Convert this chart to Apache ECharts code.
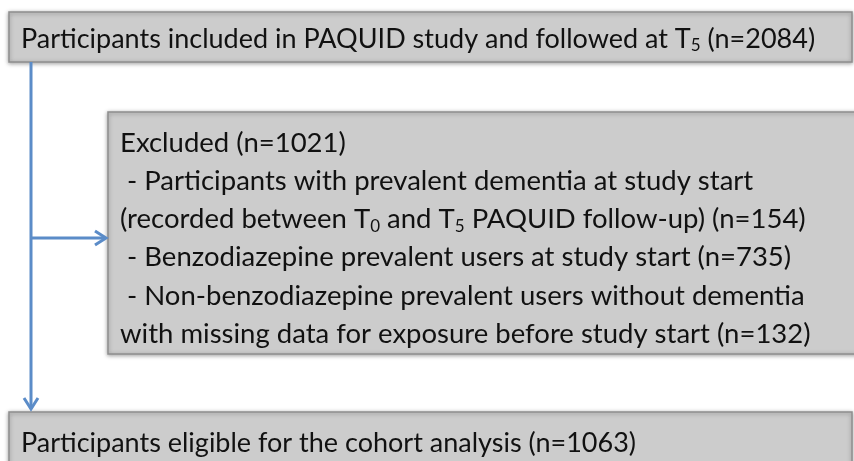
<!DOCTYPE html>
<html>
<head>
<meta charset="utf-8">
<script src="https://cdn.jsdelivr.net/npm/echarts@6/dist/echarts.min.js"></script>
<style>
  html, body { margin: 0; padding: 0; background: #fff; }
  #chart { width: 854px; height: 461px; }
</style>
</head>
<body>
<div id="chart"></div>
<script>
// box texts ({s|..} = subscript)
var topLines = ['Participants included in PAQUID study and followed at T{s|5} (n=2084)'];
var excludedLines = [
  'Excluded (n=1021)',
  ' - Participants with prevalent dementia at study start',
  '(recorded between T{s|0} and T{s|5} PAQUID follow-up) (n=154)',
  ' - Benzodiazepine prevalent users at study start (n=735)',
  ' - Non-benzodiazepine prevalent users without dementia',
  'with missing data for exposure before study start (n=132)'
];
var bottomLines = ['Participants eligible for the cohort analysis (n=1063)'];

var FONT = 'Lato';
var LINE = '#5b8cc8';

var chart = echarts.init(document.getElementById('chart'));

function box(x, y, w, h) {
  return {
    type: 'rect',
    shape: { x: x, y: y, width: w, height: h },
    style: {
      fill: '#cccccc', stroke: '#8e8e8e', lineWidth: 1.5,
      shadowBlur: 4, shadowColor: 'rgba(0,0,0,0.35)', shadowOffsetY: 1
    }
  };
}

function txt(str, x, y, fs) {
  return {
    type: 'text',
    x: x, y: y,
    style: {
      text: str,
      fill: '#111',
      font: fs + 'px ' + FONT,
      verticalAlign: 'middle',
      rich: {
        s: { fontSize: 17, fontFamily: FONT, fill: '#111', padding: [14, 0, 0, 0] }
      }
    }
  };
}

var els = [];
els.push(box(9, 12, 843, 50));
els.push(box(108, 112, 760, 242));
els.push(box(9, 412, 843, 60));

topLines.forEach(function (l, i) { els.push(txt(l, 21, 39 + i * 38, 27)); });
excludedLines.forEach(function (l, i) { els.push(txt(l, 120, 143 + i * 38.2, 27.5)); });
bottomLines.forEach(function (l, i) { els.push(txt(l, 21, 443 + i * 38, 27)); });

// connectors
var ls = { stroke: LINE, lineWidth: 3, fill: null, lineCap: 'butt' };
els.push({ type: 'line', shape: { x1: 31, y1: 62, x2: 31, y2: 409 }, style: ls });
els.push({ type: 'polyline', shape: { points: [[24, 398], [31, 409], [38, 398]] }, style: ls });
els.push({ type: 'line', shape: { x1: 31, y1: 238, x2: 105, y2: 238 }, style: ls });
els.push({ type: 'polyline', shape: { points: [[95, 231], [106, 238], [95, 245]] }, style: ls });

chart.setOption({
  backgroundColor: '#fff',
  graphic: { elements: els }
});
</script>
</body>
</html>
